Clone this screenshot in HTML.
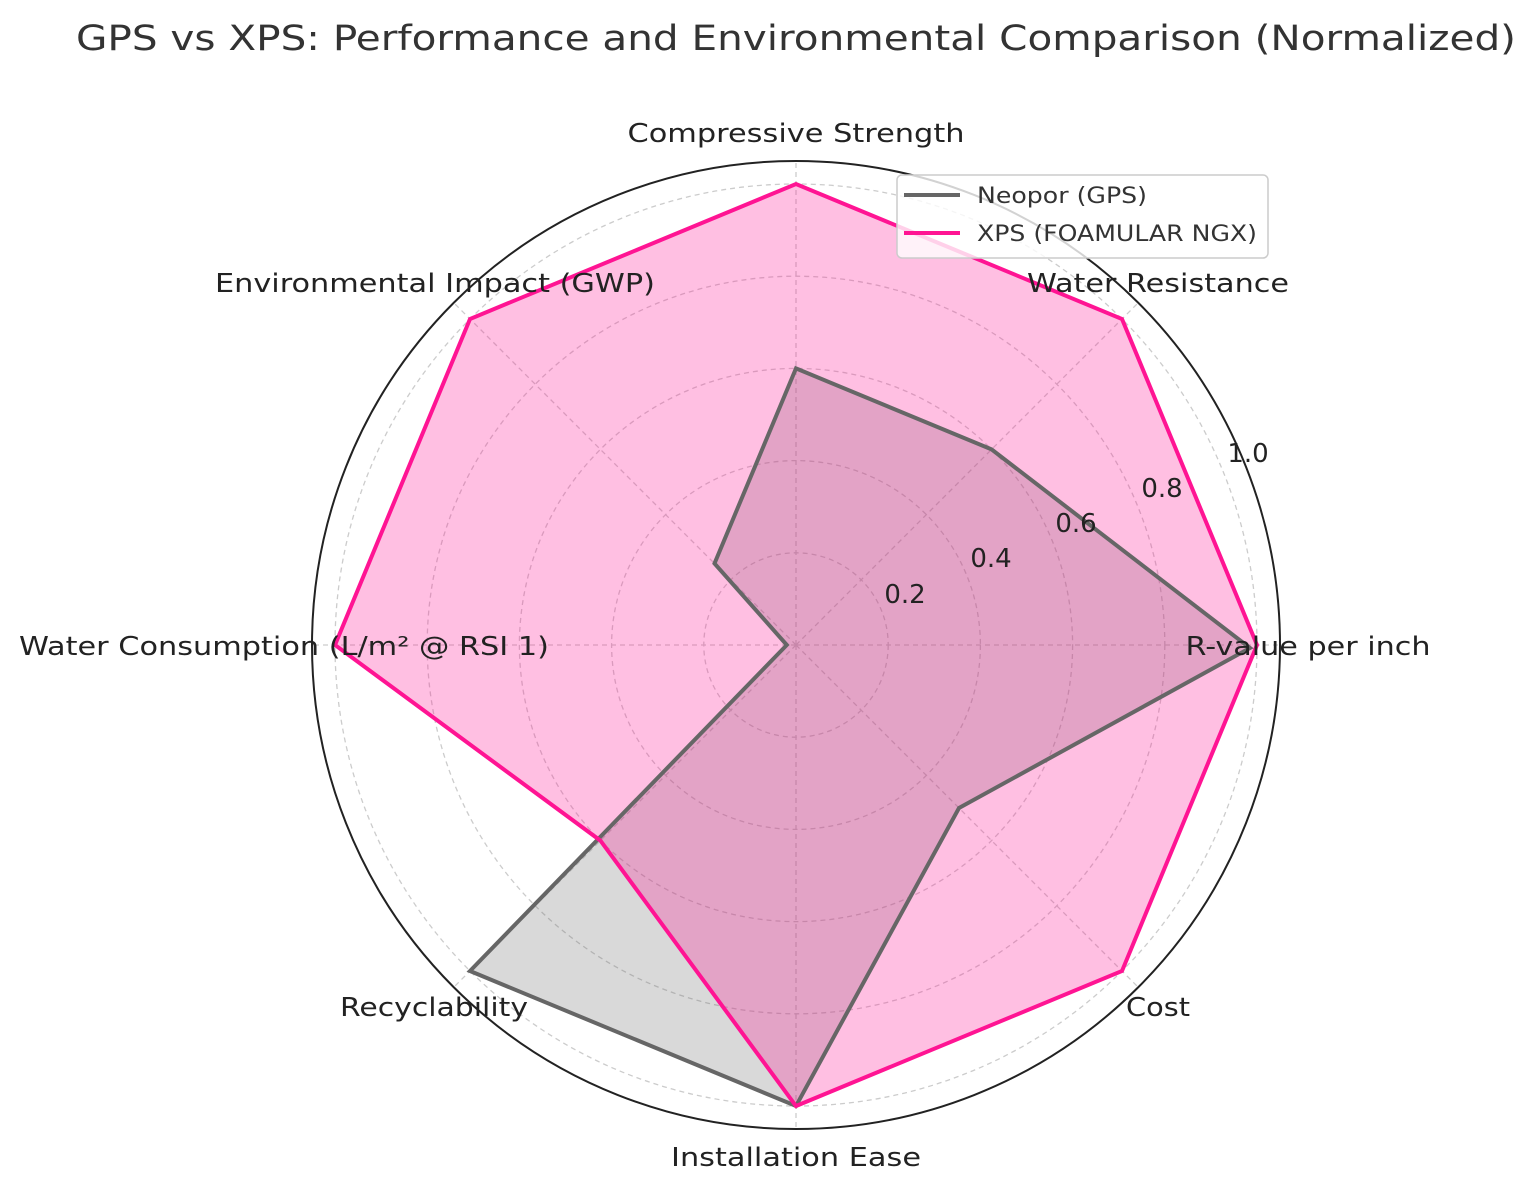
<!DOCTYPE html>
<html><head><meta charset="utf-8"><style>
html,body{margin:0;padding:0;background:#fff;}
svg{display:block;font-family:"DejaVu Sans","Liberation Sans",sans-serif;}
</style></head><body>
<svg width="1536" height="1192" viewBox="0 0 1536 1192" xmlns="http://www.w3.org/2000/svg">
<rect width="1536" height="1192" fill="#fff"/>
<text x="796" y="50" text-anchor="middle" font-size="35" fill="#333" textLength="1440" lengthAdjust="spacingAndGlyphs">GPS vs XPS: Performance and Environmental Comparison (Normalized)</text>
<g fill="none" stroke="#ccc" stroke-width="1.3" stroke-dasharray="5,4">
<circle cx="796" cy="645" r="92.2"/><circle cx="796" cy="645" r="184.4"/><circle cx="796" cy="645" r="276.6"/><circle cx="796" cy="645" r="368.8"/><circle cx="796" cy="645" r="461"/>
<line x1="796" y1="645" x2="1280" y2="645"/><line x1="796" y1="645" x2="1138" y2="303"/><line x1="796" y1="645" x2="796" y2="161"/><line x1="796" y1="645" x2="454" y2="303"/><line x1="796" y1="645" x2="312" y2="645"/><line x1="796" y1="645" x2="454" y2="987"/><line x1="796" y1="645" x2="796" y2="1129"/><line x1="796" y1="645" x2="1138" y2="987"/>
</g>
<circle cx="796" cy="645" r="484" fill="none" stroke="#222" stroke-width="2"/>
<polygon points="1250,648 991.6,449.4 796,368.4 714.5,563.5 786.8,645 470,971 796,1106 959,808" fill="rgba(102,102,102,0.25)"/>
<polygon points="1257,645 1122,319 796,184 470,319 335,645 600.4,840.6 796,1106 1122,971" fill="rgba(255,20,147,0.27)"/>
<polygon points="1250,648 991.6,449.4 796,368.4 714.5,563.5 786.8,645 470,971 796,1106 959,808" fill="none" stroke="#666" stroke-width="4"/>
<polygon points="1257,645 1122,319 796,184 470,319 335,645 600.4,840.6 796,1106 1122,971" fill="none" stroke="#ff1493" stroke-width="4"/>
<g font-size="26" fill="#222">
<text x="905" y="603" text-anchor="middle">0.2</text>
<text x="991" y="567" text-anchor="middle">0.4</text>
<text x="1076" y="532" text-anchor="middle">0.6</text>
<text x="1162" y="497" text-anchor="middle">0.8</text>
<text x="1248" y="462" text-anchor="middle">1.0</text>
<text x="796" y="142" text-anchor="middle" textLength="337" lengthAdjust="spacingAndGlyphs">Compressive Strength</text>
<text x="1158" y="292" text-anchor="middle" textLength="262" lengthAdjust="spacingAndGlyphs">Water Resistance</text>
<text x="435" y="292" text-anchor="middle" textLength="440" lengthAdjust="spacingAndGlyphs">Environmental Impact (GWP)</text>
<text x="1308" y="655" text-anchor="middle" textLength="245" lengthAdjust="spacingAndGlyphs">R-value per inch</text>
<text x="284" y="655" text-anchor="middle" textLength="530" lengthAdjust="spacingAndGlyphs">Water Consumption (L/m² @ RSI 1)</text>
<text x="434" y="1016" text-anchor="middle" textLength="188" lengthAdjust="spacingAndGlyphs">Recyclability</text>
<text x="1158" y="1016" text-anchor="middle" textLength="64" lengthAdjust="spacingAndGlyphs">Cost</text>
<text x="796" y="1166" text-anchor="middle" textLength="250" lengthAdjust="spacingAndGlyphs">Installation Ease</text>
</g>
<rect x="897" y="175" width="371" height="83" rx="5" fill="rgba(255,255,255,0.8)" stroke="#ccc" stroke-width="1.5"/>
<line x1="904" y1="195" x2="960" y2="195" stroke="#666" stroke-width="4"/>
<line x1="904" y1="233" x2="960" y2="233" stroke="#ff1493" stroke-width="4"/>
<g font-size="22" fill="#333">
<text x="977" y="203" textLength="170" lengthAdjust="spacingAndGlyphs">Neopor (GPS)</text>
<text x="977" y="241" textLength="280" lengthAdjust="spacingAndGlyphs">XPS (FOAMULAR NGX)</text>
</g>
</svg>
</body></html>
